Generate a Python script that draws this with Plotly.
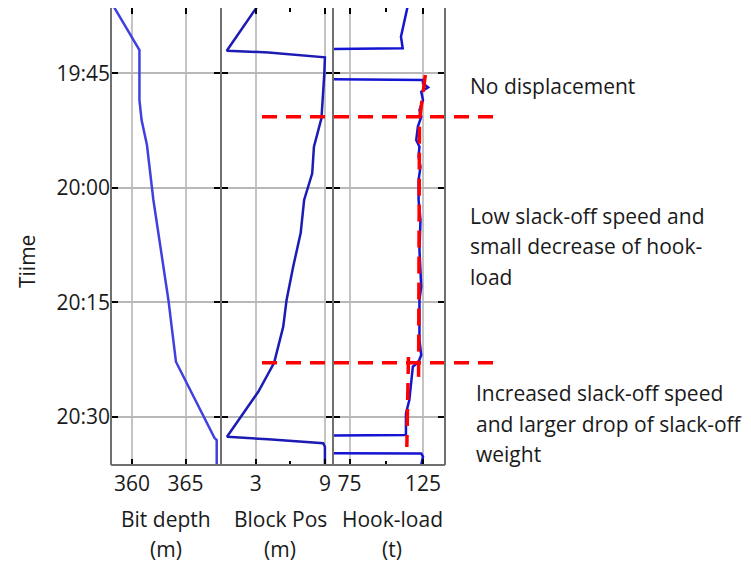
import pandas as pd
import plotly.graph_objects as go

DAY = "2000-01-01 "

# Bit depth (m) against time
bit_time = ["19:36:00", "19:41:57", "19:45:00", "19:48:30", "19:51:07", "19:54:24",
            "20:01:36", "20:14:42", "20:22:48", "20:32:48", "20:33:04", "20:37:00"]
bit_depth = [358.2, 360.7, 360.7, 360.7, 360.9, 361.4,
             362.0, 363.4, 364.1, 367.7, 367.9, 367.9]

# Block position (m) against time
block_time = ["19:36:00", "19:42:02", "19:42:15", "19:42:54", "19:45:00", "19:50:54",
              "19:54:37", "19:58:06", "20:01:36", "20:05:56", "20:10:21", "20:14:42",
              "20:18:12", "20:22:08", "20:22:56", "20:26:44", "20:32:38", "20:32:58",
              "20:33:29", "20:33:56", "20:37:00"]
block_pos = [3.25, 0.5, 4.1, 9.0, 8.95, 8.7,
             8.05, 7.9, 7.2, 6.9, 6.25, 5.68,
             5.39, 4.73, 4.6, 3.23, 0.52, 4.09,
             8.85, 9.0, 9.0]

# Hook-load (t) against time
hook_time = ["19:36:00", "19:39:20", "19:40:12", "19:41:43", "19:41:49", "19:45:45",
             "19:45:53", "19:46:19", "19:46:50", "19:47:25", "19:48:30", "19:49:49",
             "19:50:41", "19:52:00", "19:53:44", "19:54:37", "19:55:56", "19:57:14",
             "19:58:59", "20:01:36", "20:04:14", "20:08:10", "20:12:58", "20:14:42",
             "20:19:58", "20:21:55", "20:22:48", "20:23:27", "20:27:49", "20:29:34",
             "20:32:24", "20:32:30", "20:34:48", "20:34:49", "20:35:15", "20:37:00"]
hook_load = [114.8, 111.2, 110.0, 111.2, 50.0, 50.0,
             125.0, 125.0, 128.5, 123.8, 125.0, 122.6,
             123.8, 121.5, 120.4, 122.6, 122.0, 123.3,
             122.0, 122.0, 123.3, 122.6, 123.8, 122.6,
             122.6, 123.8, 122.0, 118.1, 115.7, 113.4,
             113.4, 50.0, 50.0, 123.8, 125.0, 123.0]

# Trend lines of hook-load in the two slack-off phases
trend1_time = ["19:45:13", "19:51:07", "20:24:47"]
trend1_load = [126.6, 122.6, 122.0]
trend2_time = ["20:22:11", "20:33:58"]
trend2_load = [115.1, 114.0]

# Phase boundaries
phase_marks = ["19:50:41", "20:22:56"]

# Axis settings
time_top, time_bottom = "19:36:26", "20:36:20"
bit_ticks = [360, 365]
block_ticks = [3, 9]
hook_ticks = [75, 125]

phase_notes = [
    (["No displacement"], [86], 468),
    (["Low slack-off speed and", "small decrease of hook-", "load"], [216, 246, 277], 468),
    (["Increased slack-off speed", "and larger drop of slack-off", "weight"], [393, 424, 454], 474),
]
panel_titles = [("Bit depth", "(m)", 166), ("Block Pos", "(m)", 280), ("Hook-load", "(t)", 392)]


def ts(lst):
    return [DAY + t for t in lst]


FONT = "Open Sans"
TXT = "#1a1a1a"
FS = 21

W, H = 751, 563
ML, MR, MT, MB = 111, 306, 8, 98
PW, PH = W - ML - MR, H - MT - MB


def px_x(x):
    return (x - ML) / PW


def px_y(y):
    return (MT + PH - y) / PH


fig = go.Figure()
fig.add_trace(go.Scatter(x=bit_depth, y=ts(bit_time), mode="lines",
                         line=dict(color="#4040e0", width=2.5), xaxis="x", yaxis="y"))
fig.add_trace(go.Scatter(x=block_pos, y=ts(block_time), mode="lines",
                         line=dict(color="#1c1cb4", width=2.5), xaxis="x2", yaxis="y2"))
fig.add_trace(go.Scatter(x=hook_load, y=ts(hook_time), mode="lines",
                         line=dict(color="#1414d2", width=2.5), xaxis="x3", yaxis="y3"))
for tt, vv in [(trend1_time, trend1_load), (trend2_time, trend2_load)]:
    fig.add_trace(go.Scatter(x=vv, y=ts(tt), mode="lines",
                             line=dict(color="#ff0000", width=3.5, dash="17px,9px"),
                             xaxis="x3", yaxis="y3"))

t0 = pd.Timestamp(DAY + time_top)
t1 = pd.Timestamp(DAY + time_bottom)


def time_to_paper(t):
    return (t1 - pd.Timestamp(DAY + t)) / (t1 - t0)


d1 = px_x(221)
d2 = px_x(333)

shapes = []
for t in phase_marks:
    yp = time_to_paper(t)
    shapes.append(dict(type="line", xref="paper", yref="paper",
                       x0=px_x(262), x1=px_x(497), y0=yp, y1=yp,
                       line=dict(color="#ff0000", width=3.5, dash="15px,9px"), layer="above"))
# panel borders: bottom edge and the vertical separators
BORDER = dict(color="#707070", width=2)
shapes.append(dict(type="line", xref="paper", yref="paper", x0=0, x1=1, y0=0, y1=0,
                   line=BORDER, layer="above"))
for xp in [0, d1, d2, 1]:
    shapes.append(dict(type="line", xref="paper", yref="paper", x0=xp, x1=xp, y0=0, y1=1,
                       line=BORDER, layer="above"))

annotations = []
for lines, ys, xl in phase_notes:
    for line, yy in zip(lines, ys):
        annotations.append(dict(text=line, xref="paper", yref="paper", x=px_x(xl), y=px_y(yy),
                                xanchor="left", yanchor="middle", showarrow=False,
                                font=dict(family=FONT, size=FS, color=TXT)))
for l1, l2, xc in panel_titles:
    annotations.append(dict(text=l1, xref="paper", yref="paper", x=px_x(xc), y=px_y(519),
                            xanchor="center", yanchor="middle", showarrow=False,
                            font=dict(family=FONT, size=FS, color=TXT)))
    annotations.append(dict(text=l2, xref="paper", yref="paper", x=px_x(xc), y=px_y(549),
                            xanchor="center", yanchor="middle", showarrow=False,
                            font=dict(family=FONT, size=FS, color=TXT)))
annotations.append(dict(text="Tiime", xref="paper", yref="paper", x=px_x(27), y=px_y(262),
                        xanchor="center", yanchor="middle", textangle=-90, showarrow=False,
                        font=dict(family=FONT, size=FS, color=TXT)))

xcommon = dict(showline=False, mirror="ticks", ticks="inside", ticklen=6, tickwidth=1.5,
               tickcolor="#000000", showgrid=True, gridcolor="#c4c4c4", gridwidth=1.5,
               zeroline=False, tickfont=dict(family=FONT, size=FS, color=TXT), tickmode="array",
               ticklabelstandoff=4)
ycommon = dict(type="date", range=[DAY + time_bottom, DAY + time_top], showline=False,
               mirror="ticks", ticks="inside", ticklen=7,
               tickwidth=1.5, tickcolor="#000000", showgrid=True, gridcolor="#b8b8b8",
               gridwidth=1.5, zeroline=False, tick0=DAY + "19:45:00", dtick=900000,
               tickformat="%H:%M", tickfont=dict(family=FONT, size=FS, color=TXT))

fig.update_layout(
    width=W, height=H, margin=dict(l=ML, r=MR, t=MT, b=MB),
    paper_bgcolor="white", plot_bgcolor="white", showlegend=False,
    xaxis=dict(xcommon, domain=[0, d1], range=[358.05, 368.3], tickvals=bit_ticks, anchor="y"),
    xaxis2=dict(xcommon, domain=[d1, d2], range=[0.0, 9.7], tickvals=block_ticks, anchor="y2",
                minor=dict(tickvals=[6], ticks="inside", ticklen=4, tickcolor="#000000", showgrid=False)),
    xaxis3=dict(xcommon, domain=[d2, 1], range=[63.7, 140], tickvals=hook_ticks, anchor="y3",
                minor=dict(tickvals=[100], ticks="inside", ticklen=4, tickcolor="#000000", showgrid=False)),
    yaxis=dict(ycommon, anchor="x"),
    yaxis2=dict(ycommon, anchor="x2", matches="y", showticklabels=False),
    yaxis3=dict(ycommon, anchor="x3", matches="y", showticklabels=False),
    shapes=shapes, annotations=annotations,
)

fig.write_html("out.html")
